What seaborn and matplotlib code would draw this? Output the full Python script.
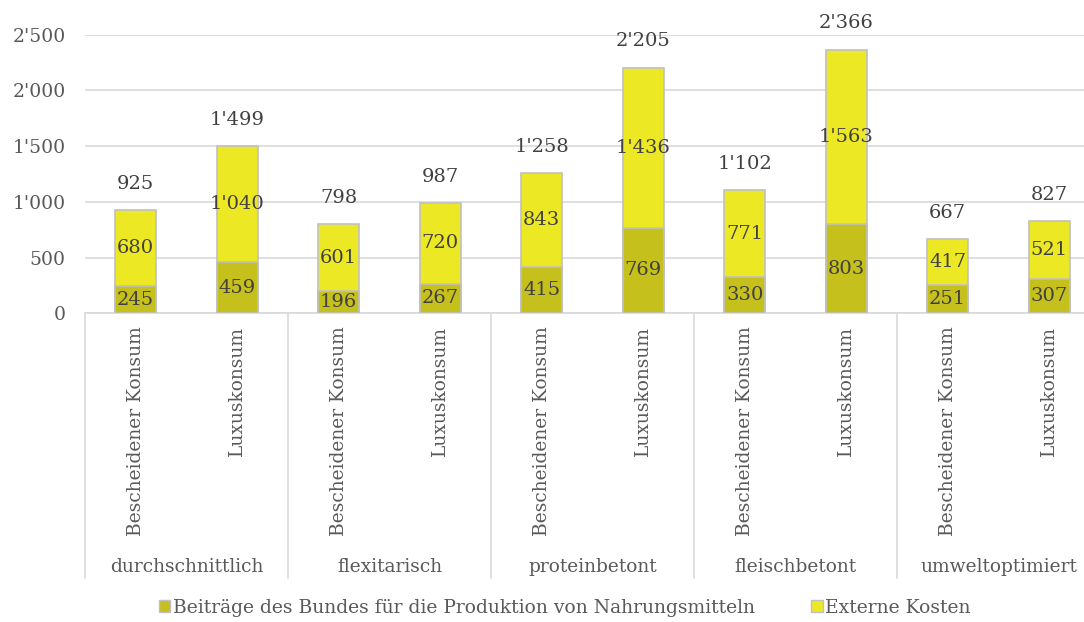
import matplotlib
matplotlib.use("Agg")
import matplotlib.pyplot as plt
import matplotlib.transforms as mtransforms
from matplotlib.patches import Patch
import seaborn as sns
import pandas as pd

# Consumption scenarios and consumption levels
groups = ["durchschnittlich", "flexitarisch", "proteinbetont", "fleischbetont", "umweltoptimiert"]
levels = ["Bescheidener Konsum", "Luxuskonsum"]

# Values per bar (scenario x level)
beitraege = [245, 459, 196, 267, 415, 769, 330, 803, 251, 307]
externe = [680, 1040, 601, 720, 843, 1436, 771, 1563, 417, 521]
totals = [925, 1499, 798, 987, 1258, 2205, 1102, 2366, 667, 827]

series_names = ["Beiträge des Bundes für die Produktion von Nahrungsmitteln", "Externe Kosten"]
yticks = [0, 500, 1000, 1500, 2000, 2500]

OLIVE = "#C5C01C"
YELLOW = "#EDE824"
EDGE = "#C0C0C0"
GRID = "#D9D9D9"
TXT = "#595959"
LBL = "#404040"

sns.set_theme(style="white")
plt.rcParams["font.family"] = ["DejaVu Serif", "DejaVu Sans"]


def fmt(v):
    return f"{v:,}".replace(",", "'")


keys = [f"{g}|{l}" for g in groups for l in levels]
df = pd.DataFrame({"key": keys, "beitraege": beitraege, "externe": externe, "total": totals})

fig = plt.figure(figsize=(10.84, 6.22), dpi=100)
ax = fig.add_axes([85 / 1084, 1 - 313.3 / 622, 1015 / 1084, 278.6 / 622])

# Full-height bars (total), then the federal contribution part on top of them
sns.barplot(data=df, x="key", y="total", order=keys, color=YELLOW, saturation=1,
            width=0.4, edgecolor=EDGE, linewidth=1.2, errorbar=None, ax=ax, zorder=2)
sns.barplot(data=df, x="key", y="beitraege", order=keys, color=OLIVE, saturation=1,
            width=0.4, edgecolor=EDGE, linewidth=1.2, errorbar=None, ax=ax, zorder=3)

ax.set_xlim(-0.5, len(keys) - 0.5)
ax.set_ylim(0, 2500)
ax.set_yticks(yticks)
ax.set_yticklabels([fmt(v) for v in yticks], fontsize=13.5, color=TXT)
ax.yaxis.grid(True, color=GRID, linewidth=1.2)
ax.set_axisbelow(True)
for s in ["top", "right", "left"]:
    ax.spines[s].set_visible(False)
ax.spines["bottom"].set_color(GRID)
ax.spines["bottom"].set_linewidth(1.2)
ax.tick_params(axis="both", length=0)
ax.tick_params(axis="y", pad=14)
ax.tick_params(axis="x", pad=9)
ax.set_xticks(range(len(keys)))
ax.set_xticklabels([k.split("|")[1] for k in keys], rotation=90, va="top", ha="center",
                   fontsize=13.4, color=TXT)
ax.set_xlabel("")
ax.set_ylabel("")

# Value labels
for i, (b, e, t) in enumerate(zip(beitraege, externe, totals)):
    ax.text(i, b / 2, fmt(b), ha="center", va="center", fontsize=14, color=LBL, zorder=5)
    ax.text(i, b + e / 2, fmt(e), ha="center", va="center", fontsize=14, color=LBL, zorder=5)
    ax.annotate(fmt(t), (i, t), xytext=(0, 19), textcoords="offset points",
                ha="center", va="center", fontsize=14, color=LBL, annotation_clip=False)

# Group separators and group labels below the tick labels
trans = mtransforms.blended_transform_factory(ax.transData, ax.transAxes)
sep_bottom = -(578 - 313.3) / 278.6
for b in [-0.5 + 2 * k for k in range(len(groups) + 1)]:
    ax.plot([b, b], [0, sep_bottom], transform=trans, color=GRID, linewidth=1.2, clip_on=False)
for k, g in enumerate(groups):
    ax.text(2 * k + 0.5, -(567 - 313.3) / 278.6, g, transform=trans, ha="center", va="center",
            fontsize=13.4, color=TXT)

handles = [Patch(facecolor=OLIVE, edgecolor=EDGE, linewidth=1.0),
           Patch(facecolor=YELLOW, edgecolor=EDGE, linewidth=1.0)]
fig.legend(handles, series_names, loc="center", bbox_to_anchor=(565 / 1084, 1 - 608 / 622), ncol=2,
           frameon=False, fontsize=13.5, labelcolor=TXT, handlelength=0.6, handleheight=0.6,
           handletextpad=0.15, columnspacing=3.0)

fig.savefig("out.png", dpi=100)
